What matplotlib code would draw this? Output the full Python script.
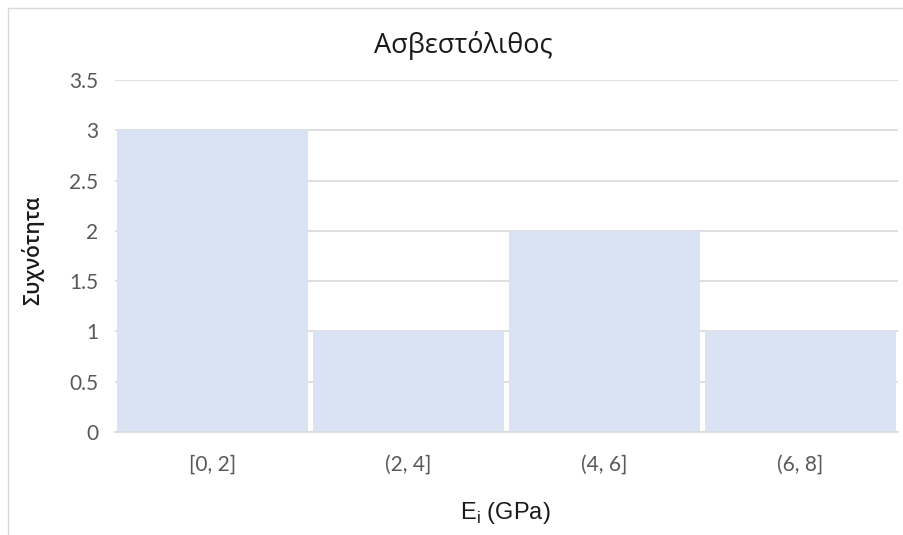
import matplotlib
matplotlib.use("Agg")
import matplotlib.pyplot as plt
from matplotlib.patches import Rectangle

categories = ["[0, 2]", "(2, 4]", "(4, 6]", "(6, 8]"]
frequencies = [3, 1, 2, 1]
yticks = [0, 0.5, 1, 1.5, 2, 2.5, 3, 3.5]
ytick_labels = ["0", "0.5", "1", "1.5", "2", "2.5", "3", "3.5"]

W, H = 904, 535
fig = plt.figure(figsize=(W / 100, H / 100), dpi=100)
fig.patch.set_facecolor("white")

# chart area outline
fig.patches.append(Rectangle((8 / W, -0.05), 1.2, 1 - 8 / H + 0.05,
                             transform=fig.transFigure, fill=False,
                             edgecolor="#D9D9D9", linewidth=1.0))

ax = fig.add_axes([115 / W, 1 - 432 / H, (898 - 115) / W, (432 - 80) / H])
x = range(len(categories))
ax.bar(x, frequencies, width=0.975, color="#DAE3F3", zorder=2)
ax.set_xlim(-0.5, len(categories) - 0.5)
ax.set_ylim(0, 3.5)
ax.set_yticks(yticks)
ax.set_yticklabels(ytick_labels)
ax.set_xticks(list(x))
ax.set_xticklabels(categories)
ax.grid(axis="y", color="#D9D9D9", linewidth=1.2, zorder=0)
ax.set_axisbelow(True)
for side in ["top", "right", "left"]:
    ax.spines[side].set_visible(False)
ax.spines["bottom"].set_color("#D9D9D9")
ax.spines["bottom"].set_linewidth(1.2)
ax.tick_params(axis="both", length=0, labelsize=15, labelcolor="#595959")
ax.tick_params(axis="x", pad=16)
ax.tick_params(axis="y", pad=12)
for lbl in ax.get_xticklabels() + ax.get_yticklabels():
    lbl.set_family("Lato")

fig.text(463 / W, 1 - 53 / H, "Ασβεστόλιθος", ha="center", va="baseline",
         fontsize=19.5, color="#1a1a1a", family="Open Sans")
fig.text(33 / W, 1 - 250 / H, "Συχνότητα", ha="center", va="center",
         rotation=90, fontsize=15, fontweight="semibold", color="#1a1a1a",
         family="Open Sans")
fig.text(505 / W, 1 - 513 / H, r"E$_\mathregular{i}$ (GPa)", ha="center",
         va="center", fontsize=17, color="#1a1a1a", family="Liberation Sans")

fig.savefig("out.png", dpi=100, facecolor="white")
